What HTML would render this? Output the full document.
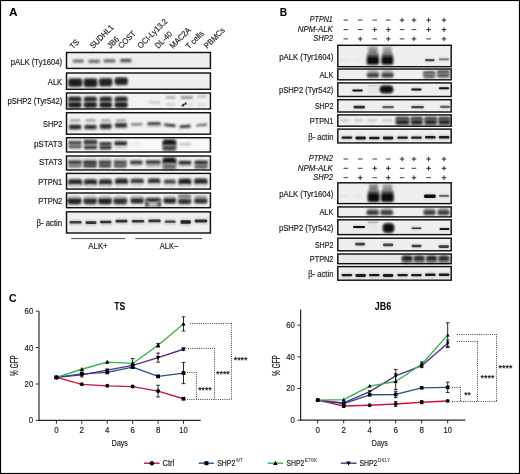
<!DOCTYPE html><html><head><meta charset="utf-8"><style>html,body{margin:0;padding:0;background:#fff;}svg{display:block;will-change:transform;}</style></head><body>
<svg width="520" height="474" viewBox="0 0 520 474" font-family='"Liberation Sans", sans-serif'>
<defs><filter id="b0" x="-50%" y="-100%" width="200%" height="300%"><feGaussianBlur stdDeviation="0.45"/></filter><filter id="b1" x="-50%" y="-100%" width="200%" height="300%"><feGaussianBlur stdDeviation="0.8"/></filter><filter id="b2" x="-50%" y="-100%" width="200%" height="300%"><feGaussianBlur stdDeviation="1.1"/></filter><filter id="b3" x="-50%" y="-50%" width="200%" height="200%"><feGaussianBlur stdDeviation="1.6"/></filter><linearGradient id="smear" x1="0" y1="0" x2="0" y2="1"><stop offset="0" stop-color="#d8d8d8"/><stop offset="0.25" stop-color="#9a9a9a"/><stop offset="0.45" stop-color="#555"/><stop offset="0.55" stop-color="#111"/><stop offset="1" stop-color="#050505"/></linearGradient></defs>
<rect x="0" y="0" width="520" height="474" fill="#fff"/>
<text x="9.00" y="15.60" font-size="11.5" font-weight="bold" fill="#000" text-anchor="start" textLength="8.60" lengthAdjust="spacingAndGlyphs">A</text>
<text x="279.80" y="15.70" font-size="11.5" font-weight="bold" fill="#000" text-anchor="start" textLength="7.40" lengthAdjust="spacingAndGlyphs">B</text>
<text x="9.00" y="302.30" font-size="11.5" font-weight="bold" fill="#000" text-anchor="start" textLength="7.60" lengthAdjust="spacingAndGlyphs">C</text>
<g transform="translate(73.00,49.60) rotate(-45)">
<text x="0.00" y="0.00" font-size="8.2" fill="#1e1e1e" stroke="#1e1e1e" stroke-width="0.18" text-anchor="start" textLength="9.60" lengthAdjust="spacingAndGlyphs">TS</text>
</g>
<g transform="translate(93.20,49.00) rotate(-45)">
<text x="0.00" y="0.00" font-size="8.2" fill="#1e1e1e" stroke="#1e1e1e" stroke-width="0.18" text-anchor="start" textLength="29.80" lengthAdjust="spacingAndGlyphs">SUDHL1</text>
</g>
<g transform="translate(110.40,49.00) rotate(-45)">
<text x="0.00" y="0.00" font-size="8.2" fill="#1e1e1e" stroke="#1e1e1e" stroke-width="0.18" text-anchor="start" textLength="13.00" lengthAdjust="spacingAndGlyphs">JB6</text>
</g>
<g transform="translate(121.40,49.00) rotate(-45)">
<text x="0.00" y="0.00" font-size="8.2" fill="#1e1e1e" stroke="#1e1e1e" stroke-width="0.18" text-anchor="start" textLength="21.00" lengthAdjust="spacingAndGlyphs">COST</text>
</g>
<g transform="translate(140.80,49.00) rotate(-45)">
<text x="0.00" y="0.00" font-size="8.2" fill="#1e1e1e" stroke="#1e1e1e" stroke-width="0.18" text-anchor="start" textLength="38.30" lengthAdjust="spacingAndGlyphs">OCI-Ly13.2</text>
</g>
<g transform="translate(158.20,49.00) rotate(-45)">
<text x="0.00" y="0.00" font-size="8.2" fill="#1e1e1e" stroke="#1e1e1e" stroke-width="0.18" text-anchor="start" textLength="20.50" lengthAdjust="spacingAndGlyphs">DL-40</text>
</g>
<g transform="translate(173.00,49.00) rotate(-45)">
<text x="0.00" y="0.00" font-size="8.2" fill="#1e1e1e" stroke="#1e1e1e" stroke-width="0.18" text-anchor="start" textLength="26.00" lengthAdjust="spacingAndGlyphs">MAC2A</text>
</g>
<g transform="translate(189.00,49.40) rotate(-45)">
<text x="0.00" y="0.00" font-size="8.2" fill="#1e1e1e" stroke="#1e1e1e" stroke-width="0.18" text-anchor="start" textLength="21.70" lengthAdjust="spacingAndGlyphs">T cells</text>
</g>
<g transform="translate(207.30,49.00) rotate(-45)">
<text x="0.00" y="0.00" font-size="8.2" fill="#1e1e1e" stroke="#1e1e1e" stroke-width="0.18" text-anchor="start" textLength="25.60" lengthAdjust="spacingAndGlyphs">PBMCs</text>
</g>
<rect x="66.50" y="52.50" width="143.90" height="15.90" fill="#efefef"/>
<rect x="66.50" y="73.00" width="143.90" height="16.30" fill="#efefef"/>
<rect x="66.50" y="93.00" width="143.90" height="16.00" fill="#f2f2f2"/>
<rect x="66.50" y="112.70" width="143.90" height="21.50" fill="#f2f2f2"/>
<rect x="66.50" y="137.70" width="143.90" height="14.30" fill="#f7f7f7"/>
<rect x="66.50" y="156.00" width="143.90" height="14.00" fill="#f1f1f1"/>
<rect x="66.50" y="173.40" width="143.90" height="15.70" fill="#f0f0f0"/>
<rect x="66.50" y="193.00" width="143.90" height="14.70" fill="#f0f0f0"/>
<rect x="66.50" y="211.80" width="143.90" height="21.20" fill="#efefef"/>
<rect x="72.50" y="59.50" width="11.70" height="4.00" rx="1.40" fill="#c8c8c8" filter="url(#b1)"/>
<rect x="88.10" y="59.50" width="12.20" height="4.00" rx="1.40" fill="#c8c8c8" filter="url(#b1)"/>
<rect x="103.30" y="59.50" width="12.40" height="4.00" rx="1.40" fill="#c8c8c8" filter="url(#b1)"/>
<rect x="119.80" y="59.50" width="12.00" height="4.00" rx="1.40" fill="#c8c8c8" filter="url(#b1)"/>
<rect x="73.00" y="59.70" width="10.70" height="2.60" rx="1.30" fill="#696969" filter="url(#b1)"/>
<rect x="88.60" y="59.90" width="11.20" height="2.60" rx="1.30" fill="#646464" filter="url(#b1)"/>
<rect x="103.80" y="59.50" width="11.40" height="2.60" rx="1.30" fill="#5f5f5f" filter="url(#b1)"/>
<rect x="120.30" y="59.00" width="11.00" height="2.80" rx="1.40" fill="#464646" filter="url(#b1)"/>
<rect x="67.90" y="77.90" width="14.70" height="9.40" rx="3.00" fill="#8e8e8e" filter="url(#b2)"/>
<rect x="68.70" y="78.90" width="13.10" height="7.40" rx="2.00" fill="#1e1e1e" filter="url(#b1)"/>
<rect x="83.40" y="78.00" width="14.20" height="9.40" rx="3.00" fill="#8e8e8e" filter="url(#b2)"/>
<rect x="84.20" y="79.00" width="12.60" height="7.40" rx="2.00" fill="#1e1e1e" filter="url(#b1)"/>
<rect x="98.70" y="77.80" width="13.90" height="9.00" rx="3.00" fill="#909090" filter="url(#b2)"/>
<rect x="99.50" y="78.80" width="12.30" height="7.00" rx="2.00" fill="#222222" filter="url(#b1)"/>
<rect x="114.40" y="77.00" width="13.70" height="8.40" rx="3.00" fill="#909090" filter="url(#b2)"/>
<rect x="115.20" y="78.00" width="12.10" height="6.40" rx="2.00" fill="#222222" filter="url(#b1)"/>
<rect x="67.70" y="96.20" width="14.10" height="6.20" rx="2.80" fill="#919191" filter="url(#b2)"/>
<rect x="68.50" y="97.20" width="12.50" height="4.20" rx="1.80" fill="#232323" filter="url(#b1)"/>
<rect x="67.70" y="101.60" width="14.10" height="6.60" rx="2.80" fill="#8e8e8e" filter="url(#b2)"/>
<rect x="68.50" y="102.60" width="12.50" height="4.60" rx="1.80" fill="#1e1e1e" filter="url(#b1)"/>
<rect x="83.50" y="96.20" width="13.70" height="6.20" rx="2.80" fill="#919191" filter="url(#b2)"/>
<rect x="84.30" y="97.20" width="12.10" height="4.20" rx="1.80" fill="#232323" filter="url(#b1)"/>
<rect x="83.50" y="101.60" width="13.70" height="6.60" rx="2.80" fill="#8e8e8e" filter="url(#b2)"/>
<rect x="84.30" y="102.60" width="12.10" height="4.60" rx="1.80" fill="#1e1e1e" filter="url(#b1)"/>
<rect x="99.20" y="96.20" width="13.10" height="6.20" rx="2.80" fill="#919191" filter="url(#b2)"/>
<rect x="100.00" y="97.20" width="11.50" height="4.20" rx="1.80" fill="#232323" filter="url(#b1)"/>
<rect x="99.20" y="101.60" width="13.10" height="6.60" rx="2.80" fill="#8e8e8e" filter="url(#b2)"/>
<rect x="100.00" y="102.60" width="11.50" height="4.60" rx="1.80" fill="#1e1e1e" filter="url(#b1)"/>
<rect x="114.30" y="96.20" width="13.60" height="6.20" rx="2.80" fill="#919191" filter="url(#b2)"/>
<rect x="115.10" y="97.20" width="12.00" height="4.20" rx="1.80" fill="#232323" filter="url(#b1)"/>
<rect x="114.30" y="101.60" width="13.60" height="6.60" rx="2.80" fill="#8e8e8e" filter="url(#b2)"/>
<rect x="115.10" y="102.60" width="12.00" height="4.60" rx="1.80" fill="#1e1e1e" filter="url(#b1)"/>
<rect x="148.30" y="101.10" width="12.40" height="2.60" rx="1.30" fill="#cdcdcd" filter="url(#b1)"/>
<rect x="165.70" y="96.00" width="9.90" height="2.80" rx="1.40" fill="#afafaf" filter="url(#b1)"/>
<rect x="165.70" y="103.30" width="9.90" height="2.40" rx="1.20" fill="#cdcdcd" filter="url(#b1)"/>
<rect x="180.50" y="95.90" width="12.50" height="3.00" rx="1.40" fill="#969696" filter="url(#b1)"/>
<rect x="186.00" y="103.40" width="7.00" height="2.20" rx="1.10" fill="#cdcdcd" filter="url(#b1)"/>
<path d="M181.0 106.2L183.2 103.6L185.0 104.4L183.6 106.4Z" fill="#2a2a2a" filter="url(#b0)"/>
<path d="M184.2 102.8L186.4 102.2L186.6 104.6L185.0 104.8Z" fill="#2a2a2a" filter="url(#b0)"/>
<rect x="197.00" y="94.90" width="10.00" height="2.80" rx="1.40" fill="#c3c3c3" filter="url(#b1)"/>
<rect x="197.00" y="103.30" width="10.00" height="2.40" rx="1.20" fill="#d7d7d7" filter="url(#b1)"/>
<rect x="69.70" y="119.60" width="10.80" height="2.00" rx="1.00" fill="#8c8c8c" filter="url(#b1)"/>
<rect x="68.70" y="124.50" width="12.80" height="5.80" rx="1.40" fill="#b9b9b9" filter="url(#b1)"/>
<rect x="69.20" y="125.10" width="11.80" height="3.80" rx="1.40" fill="#262626" filter="url(#b1)"/>
<rect x="85.10" y="119.60" width="10.80" height="2.00" rx="1.00" fill="#8c8c8c" filter="url(#b1)"/>
<rect x="84.10" y="124.70" width="12.80" height="5.40" rx="1.40" fill="#b9b9b9" filter="url(#b1)"/>
<rect x="84.60" y="125.30" width="11.80" height="3.40" rx="1.40" fill="#262626" filter="url(#b1)"/>
<rect x="100.70" y="119.60" width="10.20" height="2.00" rx="1.00" fill="#8c8c8c" filter="url(#b1)"/>
<rect x="99.70" y="123.60" width="12.20" height="6.20" rx="1.40" fill="#b9b9b9" filter="url(#b1)"/>
<rect x="100.20" y="124.20" width="11.20" height="4.20" rx="1.40" fill="#262626" filter="url(#b1)"/>
<rect x="115.70" y="119.60" width="10.60" height="2.00" rx="1.00" fill="#8c8c8c" filter="url(#b1)"/>
<rect x="114.70" y="122.80" width="12.60" height="5.80" rx="1.40" fill="#b9b9b9" filter="url(#b1)"/>
<rect x="115.20" y="123.40" width="11.60" height="3.80" rx="1.40" fill="#262626" filter="url(#b1)"/>
<rect x="131.00" y="123.20" width="11.50" height="2.40" rx="1.20" fill="#6e6e6e" filter="url(#b1)"/>
<rect x="147.50" y="122.20" width="13.20" height="3.40" rx="1.20" fill="#2d2d2d" filter="url(#b1)"/>
<rect x="148.00" y="125.20" width="12.20" height="1.60" rx="0.80" fill="#c8c8c8" filter="url(#b1)"/>
<path d="M164.3 123.6L175.3 124.2L175.3 127.2L164.3 126.0Z" fill="#353535" filter="url(#b1)"/>
<path d="M179.7 125.4L190.5 124.6L190.5 127.6L179.7 128.2Z" fill="#353535" filter="url(#b1)"/>
<path d="M196.2 124.6L207.0 123.4L207.0 125.8L196.2 126.6Z" fill="#606060" filter="url(#b1)"/>
<rect x="68.50" y="139.80" width="13.00" height="2.40" rx="1.20" fill="#c8c8c8" filter="url(#b1)"/>
<rect x="68.50" y="143.90" width="13.00" height="2.00" rx="1.00" fill="#c3c3c3" filter="url(#b1)"/>
<rect x="68.50" y="141.20" width="13.00" height="3.20" rx="1.00" fill="#373737" filter="url(#b1)"/>
<rect x="68.50" y="145.20" width="13.00" height="3.20" rx="1.00" fill="#555555" filter="url(#b1)"/>
<rect x="84.00" y="139.20" width="13.00" height="3.60" rx="1.40" fill="#6e6e6e" filter="url(#b1)"/>
<rect x="84.00" y="141.00" width="13.00" height="3.60" rx="1.00" fill="#2d2d2d" filter="url(#b1)"/>
<rect x="84.00" y="144.40" width="13.00" height="1.60" rx="0.80" fill="#969696" filter="url(#b1)"/>
<rect x="84.00" y="145.80" width="13.00" height="3.40" rx="1.00" fill="#323232" filter="url(#b1)"/>
<rect x="99.50" y="144.90" width="12.00" height="1.80" rx="0.90" fill="#aaaaaa" filter="url(#b1)"/>
<rect x="99.50" y="142.10" width="12.00" height="3.40" rx="1.00" fill="#323232" filter="url(#b1)"/>
<rect x="99.50" y="146.10" width="12.00" height="3.40" rx="1.00" fill="#323232" filter="url(#b1)"/>
<rect x="114.50" y="140.60" width="12.50" height="2.00" rx="1.00" fill="#c8c8c8" filter="url(#b1)"/>
<rect x="114.50" y="141.60" width="12.50" height="4.00" rx="1.00" fill="#232323" filter="url(#b1)"/>
<rect x="114.50" y="146.40" width="12.50" height="2.40" rx="1.20" fill="#c3c3c3" filter="url(#b1)"/>
<rect x="131.00" y="143.00" width="9.00" height="2.00" rx="1.00" fill="#e4e4e4" filter="url(#b1)"/>
<rect x="162.20" y="139.00" width="14.40" height="8.40" rx="3.50" fill="#8c8c8c" filter="url(#b2)"/>
<rect x="163.00" y="140.00" width="12.80" height="6.40" rx="2.50" fill="#191919" filter="url(#b1)"/>
<rect x="162.20" y="144.70" width="14.40" height="6.60" rx="3.00" fill="#a0a0a0" filter="url(#b2)"/>
<rect x="163.00" y="145.70" width="12.80" height="4.60" rx="2.00" fill="#464646" filter="url(#b1)"/>
<rect x="179.70" y="143.10" width="11.60" height="2.20" rx="1.10" fill="#b9b9b9" filter="url(#b1)"/>
<rect x="68.50" y="161.50" width="13.00" height="5.00" rx="1.40" fill="#969696" filter="url(#b1)"/>
<rect x="68.50" y="160.10" width="13.00" height="3.60" rx="1.00" fill="#323232" filter="url(#b1)"/>
<rect x="68.50" y="164.40" width="13.00" height="3.20" rx="1.00" fill="#787878" filter="url(#b1)"/>
<rect x="68.50" y="158.50" width="13.00" height="1.80" rx="0.90" fill="#cdcdcd" filter="url(#b1)"/>
<rect x="83.50" y="161.50" width="13.00" height="5.00" rx="1.40" fill="#787878" filter="url(#b1)"/>
<rect x="83.50" y="160.10" width="13.00" height="3.60" rx="1.00" fill="#2d2d2d" filter="url(#b1)"/>
<rect x="83.50" y="164.40" width="13.00" height="3.20" rx="1.00" fill="#414141" filter="url(#b1)"/>
<rect x="83.50" y="158.50" width="13.00" height="1.80" rx="0.90" fill="#cdcdcd" filter="url(#b1)"/>
<rect x="99.00" y="161.50" width="12.00" height="5.00" rx="1.40" fill="#8c8c8c" filter="url(#b1)"/>
<rect x="99.00" y="160.10" width="12.00" height="3.60" rx="1.00" fill="#3c3c3c" filter="url(#b1)"/>
<rect x="99.00" y="164.40" width="12.00" height="3.20" rx="1.00" fill="#414141" filter="url(#b1)"/>
<rect x="99.00" y="158.50" width="12.00" height="1.80" rx="0.90" fill="#cdcdcd" filter="url(#b1)"/>
<rect x="114.00" y="161.50" width="12.50" height="5.00" rx="1.40" fill="#969696" filter="url(#b1)"/>
<rect x="114.00" y="160.10" width="12.50" height="3.60" rx="1.00" fill="#4b4b4b" filter="url(#b1)"/>
<rect x="114.00" y="164.40" width="12.50" height="3.20" rx="1.00" fill="#555555" filter="url(#b1)"/>
<rect x="114.00" y="158.50" width="12.50" height="1.80" rx="0.90" fill="#cdcdcd" filter="url(#b1)"/>
<rect x="130.10" y="163.90" width="12.40" height="2.20" rx="1.10" fill="#c8c8c8" filter="url(#b1)"/>
<rect x="130.10" y="160.50" width="12.40" height="3.80" rx="1.00" fill="#373737" filter="url(#b1)"/>
<rect x="145.80" y="164.30" width="14.90" height="2.60" rx="1.30" fill="#aaaaaa" filter="url(#b1)"/>
<rect x="145.80" y="160.20" width="14.90" height="3.80" rx="1.00" fill="#373737" filter="url(#b1)"/>
<rect x="162.20" y="157.10" width="14.40" height="8.60" rx="3.50" fill="#8c8c8c" filter="url(#b2)"/>
<rect x="163.00" y="158.10" width="12.80" height="6.60" rx="2.50" fill="#191919" filter="url(#b1)"/>
<rect x="162.20" y="163.10" width="14.40" height="7.00" rx="3.00" fill="#b2b2b2" filter="url(#b2)"/>
<rect x="163.00" y="164.10" width="12.80" height="5.00" rx="2.00" fill="#6e6e6e" filter="url(#b1)"/>
<rect x="178.60" y="164.50" width="12.70" height="2.20" rx="1.10" fill="#bebebe" filter="url(#b1)"/>
<rect x="178.60" y="160.70" width="12.70" height="3.80" rx="1.00" fill="#282828" filter="url(#b1)"/>
<rect x="194.60" y="163.20" width="13.20" height="3.00" rx="1.40" fill="#969696" filter="url(#b1)"/>
<rect x="194.60" y="160.60" width="13.20" height="3.60" rx="1.00" fill="#2d2d2d" filter="url(#b1)"/>
<rect x="194.60" y="165.40" width="13.20" height="3.20" rx="1.00" fill="#505050" filter="url(#b1)"/>
<rect x="67.70" y="178.70" width="14.90" height="7.00" rx="3.00" fill="#929292" filter="url(#b2)"/>
<rect x="68.50" y="179.70" width="13.30" height="5.00" rx="2.00" fill="#262626" filter="url(#b1)"/>
<rect x="69.50" y="184.60" width="11.30" height="2.40" rx="1.20" fill="#d7d7d7" filter="url(#b1)"/>
<rect x="83.70" y="178.70" width="13.60" height="7.00" rx="3.00" fill="#929292" filter="url(#b2)"/>
<rect x="84.50" y="179.70" width="12.00" height="5.00" rx="2.00" fill="#262626" filter="url(#b1)"/>
<rect x="85.50" y="184.60" width="10.00" height="2.40" rx="1.20" fill="#d7d7d7" filter="url(#b1)"/>
<rect x="98.70" y="178.70" width="13.60" height="7.00" rx="3.00" fill="#929292" filter="url(#b2)"/>
<rect x="99.50" y="179.70" width="12.00" height="5.00" rx="2.00" fill="#262626" filter="url(#b1)"/>
<rect x="100.50" y="184.60" width="10.00" height="2.40" rx="1.20" fill="#d7d7d7" filter="url(#b1)"/>
<rect x="114.70" y="178.10" width="13.60" height="6.80" rx="3.00" fill="#939393" filter="url(#b2)"/>
<rect x="115.50" y="179.10" width="12.00" height="4.80" rx="2.00" fill="#282828" filter="url(#b1)"/>
<rect x="116.50" y="183.90" width="10.00" height="2.40" rx="1.20" fill="#d7d7d7" filter="url(#b1)"/>
<rect x="130.20" y="178.20" width="14.00" height="6.00" rx="3.00" fill="#9a9a9a" filter="url(#b2)"/>
<rect x="131.00" y="179.20" width="12.40" height="4.00" rx="2.00" fill="#373737" filter="url(#b1)"/>
<rect x="132.00" y="183.60" width="10.40" height="2.40" rx="1.20" fill="#d7d7d7" filter="url(#b1)"/>
<rect x="147.50" y="178.10" width="13.20" height="6.20" rx="3.00" fill="#959595" filter="url(#b2)"/>
<rect x="148.30" y="179.10" width="11.60" height="4.20" rx="2.00" fill="#2d2d2d" filter="url(#b1)"/>
<rect x="149.30" y="183.60" width="9.60" height="2.40" rx="1.20" fill="#d7d7d7" filter="url(#b1)"/>
<rect x="163.50" y="179.10" width="12.60" height="5.60" rx="3.00" fill="#a0a0a0" filter="url(#b2)"/>
<rect x="164.30" y="180.10" width="11.00" height="3.60" rx="2.00" fill="#464646" filter="url(#b1)"/>
<rect x="165.30" y="184.30" width="9.00" height="2.40" rx="1.20" fill="#d7d7d7" filter="url(#b1)"/>
<rect x="178.10" y="178.20" width="13.50" height="7.40" rx="3.00" fill="#8e8e8e" filter="url(#b2)"/>
<rect x="178.90" y="179.20" width="11.90" height="5.40" rx="2.00" fill="#1e1e1e" filter="url(#b1)"/>
<rect x="179.90" y="184.30" width="9.90" height="2.40" rx="1.20" fill="#d7d7d7" filter="url(#b1)"/>
<rect x="193.80" y="178.10" width="14.00" height="7.00" rx="3.00" fill="#939393" filter="url(#b2)"/>
<rect x="194.60" y="179.10" width="12.40" height="5.00" rx="2.00" fill="#282828" filter="url(#b1)"/>
<rect x="195.60" y="184.00" width="10.40" height="2.40" rx="1.20" fill="#d7d7d7" filter="url(#b1)"/>
<rect x="67.00" y="197.20" width="14.80" height="7.60" rx="3.20" fill="#919191" filter="url(#b2)"/>
<rect x="67.80" y="198.20" width="13.20" height="5.60" rx="2.20" fill="#232323" filter="url(#b1)"/>
<rect x="68.80" y="195.90" width="11.20" height="2.20" rx="1.10" fill="#bebebe" filter="url(#b1)"/>
<rect x="83.20" y="197.20" width="14.10" height="7.60" rx="3.20" fill="#959595" filter="url(#b2)"/>
<rect x="84.00" y="198.20" width="12.50" height="5.60" rx="2.20" fill="#2d2d2d" filter="url(#b1)"/>
<rect x="85.00" y="195.90" width="10.50" height="2.20" rx="1.10" fill="#bebebe" filter="url(#b1)"/>
<rect x="97.80" y="197.20" width="14.50" height="7.60" rx="3.20" fill="#919191" filter="url(#b2)"/>
<rect x="98.60" y="198.20" width="12.90" height="5.60" rx="2.20" fill="#232323" filter="url(#b1)"/>
<rect x="99.60" y="195.90" width="10.90" height="2.20" rx="1.10" fill="#bebebe" filter="url(#b1)"/>
<rect x="113.20" y="197.20" width="14.30" height="7.60" rx="3.20" fill="#959595" filter="url(#b2)"/>
<rect x="114.00" y="198.20" width="12.70" height="5.60" rx="2.20" fill="#2d2d2d" filter="url(#b1)"/>
<rect x="115.00" y="195.90" width="10.70" height="2.20" rx="1.10" fill="#bebebe" filter="url(#b1)"/>
<rect x="130.20" y="197.10" width="14.00" height="7.00" rx="3.20" fill="#959595" filter="url(#b2)"/>
<rect x="131.00" y="198.10" width="12.40" height="5.00" rx="2.20" fill="#2d2d2d" filter="url(#b1)"/>
<rect x="132.00" y="195.90" width="10.40" height="2.20" rx="1.10" fill="#bebebe" filter="url(#b1)"/>
<rect x="163.20" y="197.10" width="13.20" height="7.00" rx="3.20" fill="#939393" filter="url(#b2)"/>
<rect x="164.00" y="198.10" width="11.60" height="5.00" rx="2.20" fill="#282828" filter="url(#b1)"/>
<rect x="165.00" y="195.90" width="9.60" height="2.20" rx="1.10" fill="#bebebe" filter="url(#b1)"/>
<rect x="144.80" y="197.40" width="16.50" height="6.20" rx="2.80" fill="#939393" filter="url(#b2)"/>
<rect x="145.60" y="198.40" width="14.90" height="4.20" rx="1.80" fill="#282828" filter="url(#b1)"/>
<rect x="146.00" y="202.00" width="14.20" height="4.60" rx="1.50" fill="#8c8c8c" filter="url(#b1)"/>
<rect x="145.00" y="200.50" width="4.40" height="7.00" rx="2.20" fill="#a0a0a0" filter="url(#b2)"/>
<rect x="145.80" y="201.50" width="2.80" height="5.00" rx="1.20" fill="#464646" filter="url(#b1)"/>
<rect x="156.80" y="200.50" width="4.40" height="7.00" rx="2.20" fill="#a3a3a3" filter="url(#b2)"/>
<rect x="157.60" y="201.50" width="2.80" height="5.00" rx="1.20" fill="#4b4b4b" filter="url(#b1)"/>
<rect x="149.00" y="202.90" width="8.00" height="2.60" rx="1.20" fill="#cdcdcd" filter="url(#b1)"/>
<rect x="177.70" y="194.20" width="13.90" height="4.40" rx="2.20" fill="#b2b2b2" filter="url(#b2)"/>
<rect x="178.50" y="195.20" width="12.30" height="2.40" rx="1.20" fill="#6e6e6e" filter="url(#b1)"/>
<rect x="177.70" y="198.20" width="13.90" height="6.40" rx="2.80" fill="#959595" filter="url(#b2)"/>
<rect x="178.50" y="199.20" width="12.30" height="4.40" rx="1.80" fill="#2d2d2d" filter="url(#b1)"/>
<rect x="194.60" y="195.70" width="12.40" height="2.20" rx="1.10" fill="#8c8c8c" filter="url(#b1)"/>
<rect x="193.80" y="197.70" width="14.00" height="6.40" rx="2.80" fill="#959595" filter="url(#b2)"/>
<rect x="194.60" y="198.70" width="12.40" height="4.40" rx="1.80" fill="#2d2d2d" filter="url(#b1)"/>
<rect x="69.00" y="219.90" width="13.00" height="5.20" rx="1.40" fill="#c3c3c3" filter="url(#b1)"/>
<rect x="69.50" y="220.90" width="12.00" height="2.60" rx="1.30" fill="#3c3c3c" filter="url(#b0)"/>
<rect x="85.00" y="220.20" width="12.00" height="5.40" rx="1.40" fill="#c3c3c3" filter="url(#b1)"/>
<rect x="85.50" y="221.20" width="11.00" height="2.80" rx="1.40" fill="#323232" filter="url(#b0)"/>
<rect x="99.50" y="219.70" width="12.50" height="5.20" rx="1.40" fill="#c3c3c3" filter="url(#b1)"/>
<rect x="100.00" y="220.70" width="11.50" height="2.60" rx="1.30" fill="#323232" filter="url(#b0)"/>
<rect x="115.00" y="218.70" width="13.00" height="5.40" rx="1.40" fill="#c3c3c3" filter="url(#b1)"/>
<rect x="115.50" y="219.70" width="12.00" height="2.80" rx="1.40" fill="#323232" filter="url(#b0)"/>
<rect x="131.30" y="218.90" width="13.40" height="5.20" rx="1.40" fill="#c3c3c3" filter="url(#b1)"/>
<rect x="131.80" y="219.90" width="12.40" height="2.60" rx="1.30" fill="#373737" filter="url(#b0)"/>
<rect x="147.80" y="218.60" width="13.40" height="5.20" rx="1.40" fill="#c3c3c3" filter="url(#b1)"/>
<rect x="148.30" y="219.60" width="12.40" height="2.60" rx="1.30" fill="#373737" filter="url(#b0)"/>
<rect x="164.30" y="219.60" width="11.80" height="4.80" rx="1.40" fill="#c3c3c3" filter="url(#b1)"/>
<rect x="164.80" y="220.60" width="10.80" height="2.20" rx="1.10" fill="#464646" filter="url(#b0)"/>
<rect x="180.00" y="219.20" width="11.30" height="6.20" rx="1.40" fill="#c3c3c3" filter="url(#b1)"/>
<rect x="180.50" y="220.20" width="10.30" height="3.60" rx="1.40" fill="#232323" filter="url(#b0)"/>
<rect x="194.10" y="218.40" width="13.70" height="5.60" rx="1.40" fill="#c3c3c3" filter="url(#b1)"/>
<rect x="194.60" y="219.40" width="12.70" height="3.00" rx="1.40" fill="#2d2d2d" filter="url(#b0)"/>
<rect x="66.50" y="52.50" width="143.90" height="15.90" fill="none" stroke="#111" stroke-width="1.45"/>
<text x="10.80" y="64.90" font-size="8.2" fill="#1e1e1e" stroke="#1e1e1e" stroke-width="0.18" text-anchor="start" textLength="51.40" lengthAdjust="spacingAndGlyphs">pALK (Ty1604)</text>
<rect x="66.50" y="73.00" width="143.90" height="16.30" fill="none" stroke="#111" stroke-width="1.45"/>
<text x="47.80" y="85.00" font-size="8.2" fill="#1e1e1e" stroke="#1e1e1e" stroke-width="0.18" text-anchor="start" textLength="14.40" lengthAdjust="spacingAndGlyphs">ALK</text>
<rect x="66.50" y="93.00" width="143.90" height="16.00" fill="none" stroke="#111" stroke-width="1.45"/>
<text x="7.40" y="104.30" font-size="8.2" fill="#1e1e1e" stroke="#1e1e1e" stroke-width="0.18" text-anchor="start" textLength="54.80" lengthAdjust="spacingAndGlyphs">pSHP2 (Tyr542)</text>
<rect x="66.50" y="112.70" width="143.90" height="21.50" fill="none" stroke="#111" stroke-width="1.45"/>
<text x="43.10" y="126.70" font-size="8.2" fill="#1e1e1e" stroke="#1e1e1e" stroke-width="0.18" text-anchor="start" textLength="19.10" lengthAdjust="spacingAndGlyphs">SHP2</text>
<rect x="66.50" y="137.70" width="143.90" height="14.30" fill="none" stroke="#111" stroke-width="1.45"/>
<text x="33.90" y="146.60" font-size="8.2" fill="#1e1e1e" stroke="#1e1e1e" stroke-width="0.18" text-anchor="start" textLength="28.30" lengthAdjust="spacingAndGlyphs">pSTAT3</text>
<rect x="66.50" y="156.00" width="143.90" height="14.00" fill="none" stroke="#111" stroke-width="1.45"/>
<text x="39.00" y="164.70" font-size="8.2" fill="#1e1e1e" stroke="#1e1e1e" stroke-width="0.18" text-anchor="start" textLength="23.20" lengthAdjust="spacingAndGlyphs">STAT3</text>
<rect x="66.50" y="173.40" width="143.90" height="15.70" fill="none" stroke="#111" stroke-width="1.45"/>
<text x="38.20" y="184.90" font-size="8.2" fill="#1e1e1e" stroke="#1e1e1e" stroke-width="0.18" text-anchor="start" textLength="24.00" lengthAdjust="spacingAndGlyphs">PTPN1</text>
<rect x="66.50" y="193.00" width="143.90" height="14.70" fill="none" stroke="#111" stroke-width="1.45"/>
<text x="38.20" y="203.50" font-size="8.2" fill="#1e1e1e" stroke="#1e1e1e" stroke-width="0.18" text-anchor="start" textLength="24.00" lengthAdjust="spacingAndGlyphs">PTPN2</text>
<rect x="66.50" y="211.80" width="143.90" height="21.20" fill="none" stroke="#111" stroke-width="1.45"/>
<text x="36.40" y="225.80" font-size="8.2" fill="#1e1e1e" stroke="#1e1e1e" stroke-width="0.18" text-anchor="start" textLength="25.80" lengthAdjust="spacingAndGlyphs">β- actin</text>
<line x1="71.3" y1="238.6" x2="125.2" y2="238.6" stroke="#333" stroke-width="0.9"/>
<line x1="135.2" y1="238.6" x2="202.3" y2="238.6" stroke="#333" stroke-width="0.9"/>
<text x="88.30" y="249.20" font-size="8.2" fill="#1e1e1e" stroke="#1e1e1e" stroke-width="0.18" text-anchor="start" textLength="19.40" lengthAdjust="spacingAndGlyphs">ALK+</text>
<text x="159.80" y="249.20" font-size="8.2" fill="#1e1e1e" stroke="#1e1e1e" stroke-width="0.18" text-anchor="start" textLength="18.40" lengthAdjust="spacingAndGlyphs">ALK–</text>
<text x="309.80" y="22.40" font-size="8.2" font-style="italic" fill="#1e1e1e" stroke="#1e1e1e" stroke-width="0.18" text-anchor="start" textLength="23.00" lengthAdjust="spacingAndGlyphs">PTPN1</text>
<path d="M343.50 20.10h4.6" stroke="#333" stroke-width="0.95" fill="none"/>
<path d="M357.90 20.10h4.6" stroke="#333" stroke-width="0.95" fill="none"/>
<path d="M372.40 20.10h4.6" stroke="#333" stroke-width="0.95" fill="none"/>
<path d="M386.00 20.10h4.6" stroke="#333" stroke-width="0.95" fill="none"/>
<path d="M399.80 20.10h4.6M402.10 17.80v4.6" stroke="#222" stroke-width="0.95" fill="none"/>
<path d="M411.70 20.10h4.6M414.00 17.80v4.6" stroke="#222" stroke-width="0.95" fill="none"/>
<path d="M426.30 20.10h4.6M428.60 17.80v4.6" stroke="#222" stroke-width="0.95" fill="none"/>
<path d="M441.70 20.10h4.6M444.00 17.80v4.6" stroke="#222" stroke-width="0.95" fill="none"/>
<text x="297.80" y="31.90" font-size="8.2" font-style="italic" fill="#1e1e1e" stroke="#1e1e1e" stroke-width="0.18" text-anchor="start" textLength="35.00" lengthAdjust="spacingAndGlyphs">NPM-ALK</text>
<path d="M343.50 29.60h4.6" stroke="#333" stroke-width="0.95" fill="none"/>
<path d="M357.90 29.60h4.6" stroke="#333" stroke-width="0.95" fill="none"/>
<path d="M372.40 29.60h4.6M374.70 27.30v4.6" stroke="#222" stroke-width="0.95" fill="none"/>
<path d="M386.00 29.60h4.6M388.30 27.30v4.6" stroke="#222" stroke-width="0.95" fill="none"/>
<path d="M399.80 29.60h4.6" stroke="#333" stroke-width="0.95" fill="none"/>
<path d="M411.70 29.60h4.6" stroke="#333" stroke-width="0.95" fill="none"/>
<path d="M426.30 29.60h4.6M428.60 27.30v4.6" stroke="#222" stroke-width="0.95" fill="none"/>
<path d="M441.70 29.60h4.6M444.00 27.30v4.6" stroke="#222" stroke-width="0.95" fill="none"/>
<text x="313.30" y="41.20" font-size="8.2" font-style="italic" fill="#1e1e1e" stroke="#1e1e1e" stroke-width="0.18" text-anchor="start" textLength="19.50" lengthAdjust="spacingAndGlyphs">SHP2</text>
<path d="M343.50 38.90h4.6" stroke="#333" stroke-width="0.95" fill="none"/>
<path d="M357.90 38.90h4.6M360.20 36.60v4.6" stroke="#222" stroke-width="0.95" fill="none"/>
<path d="M372.40 38.90h4.6" stroke="#333" stroke-width="0.95" fill="none"/>
<path d="M386.00 38.90h4.6M388.30 36.60v4.6" stroke="#222" stroke-width="0.95" fill="none"/>
<path d="M399.80 38.90h4.6" stroke="#333" stroke-width="0.95" fill="none"/>
<path d="M411.70 38.90h4.6M414.00 36.60v4.6" stroke="#222" stroke-width="0.95" fill="none"/>
<path d="M426.30 38.90h4.6" stroke="#333" stroke-width="0.95" fill="none"/>
<path d="M441.70 38.90h4.6M444.00 36.60v4.6" stroke="#222" stroke-width="0.95" fill="none"/>
<text x="308.80" y="161.30" font-size="8.2" font-style="italic" fill="#1e1e1e" stroke="#1e1e1e" stroke-width="0.18" text-anchor="start" textLength="24.00" lengthAdjust="spacingAndGlyphs">PTPN2</text>
<path d="M343.50 159.00h4.6" stroke="#333" stroke-width="0.95" fill="none"/>
<path d="M357.90 159.00h4.6" stroke="#333" stroke-width="0.95" fill="none"/>
<path d="M372.40 159.00h4.6" stroke="#333" stroke-width="0.95" fill="none"/>
<path d="M386.00 159.00h4.6" stroke="#333" stroke-width="0.95" fill="none"/>
<path d="M399.80 159.00h4.6M402.10 156.70v4.6" stroke="#222" stroke-width="0.95" fill="none"/>
<path d="M411.70 159.00h4.6M414.00 156.70v4.6" stroke="#222" stroke-width="0.95" fill="none"/>
<path d="M426.30 159.00h4.6M428.60 156.70v4.6" stroke="#222" stroke-width="0.95" fill="none"/>
<path d="M441.70 159.00h4.6M444.00 156.70v4.6" stroke="#222" stroke-width="0.95" fill="none"/>
<text x="297.80" y="170.60" font-size="8.2" font-style="italic" fill="#1e1e1e" stroke="#1e1e1e" stroke-width="0.18" text-anchor="start" textLength="35.00" lengthAdjust="spacingAndGlyphs">NPM-ALK</text>
<path d="M343.50 168.30h4.6" stroke="#333" stroke-width="0.95" fill="none"/>
<path d="M357.90 168.30h4.6" stroke="#333" stroke-width="0.95" fill="none"/>
<path d="M372.40 168.30h4.6M374.70 166.00v4.6" stroke="#222" stroke-width="0.95" fill="none"/>
<path d="M386.00 168.30h4.6M388.30 166.00v4.6" stroke="#222" stroke-width="0.95" fill="none"/>
<path d="M399.80 168.30h4.6" stroke="#333" stroke-width="0.95" fill="none"/>
<path d="M411.70 168.30h4.6" stroke="#333" stroke-width="0.95" fill="none"/>
<path d="M426.30 168.30h4.6M428.60 166.00v4.6" stroke="#222" stroke-width="0.95" fill="none"/>
<path d="M441.70 168.30h4.6M444.00 166.00v4.6" stroke="#222" stroke-width="0.95" fill="none"/>
<text x="313.30" y="180.00" font-size="8.2" font-style="italic" fill="#1e1e1e" stroke="#1e1e1e" stroke-width="0.18" text-anchor="start" textLength="19.50" lengthAdjust="spacingAndGlyphs">SHP2</text>
<path d="M343.50 177.70h4.6" stroke="#333" stroke-width="0.95" fill="none"/>
<path d="M357.90 177.70h4.6M360.20 175.40v4.6" stroke="#222" stroke-width="0.95" fill="none"/>
<path d="M372.40 177.70h4.6" stroke="#333" stroke-width="0.95" fill="none"/>
<path d="M386.00 177.70h4.6M388.30 175.40v4.6" stroke="#222" stroke-width="0.95" fill="none"/>
<path d="M399.80 177.70h4.6" stroke="#333" stroke-width="0.95" fill="none"/>
<path d="M411.70 177.70h4.6M414.00 175.40v4.6" stroke="#222" stroke-width="0.95" fill="none"/>
<path d="M426.30 177.70h4.6" stroke="#333" stroke-width="0.95" fill="none"/>
<path d="M441.70 177.70h4.6M444.00 175.40v4.6" stroke="#222" stroke-width="0.95" fill="none"/>
<rect x="337.80" y="45.30" width="113.40" height="21.40" fill="#efefef"/>
<rect x="337.80" y="69.00" width="113.40" height="10.80" fill="#efefef"/>
<rect x="337.80" y="82.90" width="113.40" height="13.60" fill="#efefef"/>
<rect x="337.80" y="99.70" width="113.40" height="12.30" fill="#efefef"/>
<rect x="337.80" y="114.90" width="113.40" height="11.30" fill="#efefef"/>
<rect x="337.80" y="129.10" width="113.40" height="13.80" fill="#efefef"/>
<rect x="337.80" y="182.80" width="113.40" height="20.80" fill="#efefef"/>
<rect x="337.80" y="206.90" width="113.40" height="10.00" fill="#efefef"/>
<rect x="337.80" y="219.80" width="113.40" height="14.80" fill="#efefef"/>
<rect x="337.80" y="238.20" width="113.40" height="12.60" fill="#efefef"/>
<rect x="337.80" y="254.00" width="113.40" height="9.70" fill="#e9e9e9"/>
<rect x="337.80" y="266.60" width="113.40" height="13.60" fill="#efefef"/>
<linearGradient id="sg36646" x1="0" y1="0" x2="0" y2="1"><stop offset="0" stop-color="#a5a5a5"/><stop offset="0.5" stop-color="#828282"/><stop offset="1" stop-color="#3a3a3a"/></linearGradient>
<rect x="368.20" y="46.30" width="9.30" height="10.30" rx="1" fill="url(#sg36646)" filter="url(#b1)"/>
<rect x="366.70" y="53.50" width="12.30" height="4.20" rx="2.10" fill="#a5a5a5" filter="url(#b2)"/>
<rect x="367.50" y="54.50" width="10.70" height="2.20" rx="1.10" fill="#505050" filter="url(#b1)"/>
<rect x="366.70" y="56.20" width="12.30" height="8.60" rx="2.6" fill="#0a0a0a" filter="url(#b1)"/>
<linearGradient id="sg38146" x1="0" y1="0" x2="0" y2="1"><stop offset="0" stop-color="#b4b4b4"/><stop offset="0.5" stop-color="#919191"/><stop offset="1" stop-color="#3a3a3a"/></linearGradient>
<rect x="382.90" y="46.30" width="8.90" height="10.30" rx="1" fill="url(#sg38146)" filter="url(#b1)"/>
<rect x="381.40" y="53.50" width="11.90" height="4.20" rx="2.10" fill="#a5a5a5" filter="url(#b2)"/>
<rect x="382.20" y="54.50" width="10.30" height="2.20" rx="1.10" fill="#505050" filter="url(#b1)"/>
<rect x="381.40" y="56.20" width="11.90" height="8.60" rx="2.6" fill="#0a0a0a" filter="url(#b1)"/>
<rect x="424.70" y="58.20" width="10.20" height="3.80" rx="1.40" fill="#c8c8c8" filter="url(#b1)"/>
<rect x="425.00" y="59.00" width="9.60" height="2.20" rx="1.10" fill="#505050" filter="url(#b0)"/>
<rect x="438.60" y="57.60" width="10.70" height="3.40" rx="1.40" fill="#c8c8c8" filter="url(#b1)"/>
<rect x="438.90" y="58.40" width="10.10" height="1.80" rx="0.90" fill="#787878" filter="url(#b0)"/>
<rect x="340.00" y="58.40" width="8.00" height="1.80" rx="0.90" fill="#e1e1e1" filter="url(#b1)"/>
<rect x="354.00" y="58.40" width="8.00" height="1.80" rx="0.90" fill="#e4e4e4" filter="url(#b1)"/>
<rect x="367.50" y="70.30" width="11.00" height="2.60" rx="1.30" fill="#a5a5a5" filter="url(#b1)"/>
<rect x="366.70" y="72.30" width="12.60" height="5.60" rx="2.20" fill="#9c9c9c" filter="url(#b2)"/>
<rect x="367.50" y="73.30" width="11.00" height="3.60" rx="1.20" fill="#3c3c3c" filter="url(#b1)"/>
<rect x="382.00" y="70.30" width="11.00" height="2.60" rx="1.30" fill="#a5a5a5" filter="url(#b1)"/>
<rect x="381.20" y="72.30" width="12.60" height="5.60" rx="2.20" fill="#9c9c9c" filter="url(#b2)"/>
<rect x="382.00" y="73.30" width="11.00" height="3.60" rx="1.20" fill="#3c3c3c" filter="url(#b1)"/>
<rect x="423.00" y="71.10" width="12.40" height="4.40" rx="2.20" fill="#959595" filter="url(#b2)"/>
<rect x="423.80" y="72.10" width="10.80" height="2.40" rx="1.20" fill="#2d2d2d" filter="url(#b1)"/>
<rect x="423.00" y="73.40" width="12.40" height="5.20" rx="2.40" fill="#a9a9a9" filter="url(#b2)"/>
<rect x="423.80" y="74.40" width="10.80" height="3.20" rx="1.40" fill="#5a5a5a" filter="url(#b1)"/>
<rect x="436.80" y="70.30" width="13.00" height="4.40" rx="2.20" fill="#939393" filter="url(#b2)"/>
<rect x="437.60" y="71.30" width="11.40" height="2.40" rx="1.20" fill="#282828" filter="url(#b1)"/>
<rect x="436.80" y="72.70" width="13.00" height="5.40" rx="2.40" fill="#a7a7a7" filter="url(#b2)"/>
<rect x="437.60" y="73.70" width="11.40" height="3.40" rx="1.40" fill="#555555" filter="url(#b1)"/>
<rect x="352.00" y="88.70" width="11.00" height="3.60" rx="1.40" fill="#c8c8c8" filter="url(#b1)"/>
<rect x="352.30" y="89.50" width="10.40" height="2.00" rx="1.00" fill="#141414" filter="url(#b0)"/>
<rect x="367.50" y="86.00" width="11.00" height="8.00" rx="1.40" fill="#e4e4e4" filter="url(#b2)"/>
<rect x="368.00" y="84.90" width="10.00" height="1.40" rx="0.70" fill="#c8c8c8" filter="url(#b0)"/>
<rect x="379.40" y="85.00" width="14.20" height="8.80" rx="4.20" fill="#858585" filter="url(#b2)"/>
<rect x="380.20" y="86.00" width="12.60" height="6.80" rx="3.20" fill="#0a0a0a" filter="url(#b1)"/>
<rect x="410.90" y="87.80" width="11.00" height="3.60" rx="1.40" fill="#c8c8c8" filter="url(#b1)"/>
<rect x="411.20" y="88.60" width="10.40" height="2.00" rx="1.00" fill="#191919" filter="url(#b0)"/>
<rect x="438.60" y="86.50" width="10.70" height="3.60" rx="1.40" fill="#c8c8c8" filter="url(#b1)"/>
<rect x="438.90" y="87.30" width="10.10" height="2.00" rx="1.00" fill="#141414" filter="url(#b0)"/>
<rect x="353.20" y="105.00" width="12.10" height="4.20" rx="1.40" fill="#c8c8c8" filter="url(#b1)"/>
<rect x="353.50" y="105.80" width="11.50" height="2.60" rx="1.30" fill="#2d2d2d" filter="url(#b0)"/>
<rect x="382.00" y="105.20" width="12.20" height="3.80" rx="1.40" fill="#c8c8c8" filter="url(#b1)"/>
<rect x="382.30" y="106.00" width="11.60" height="2.20" rx="1.10" fill="#646464" filter="url(#b0)"/>
<rect x="410.90" y="105.10" width="13.30" height="4.00" rx="1.40" fill="#c8c8c8" filter="url(#b1)"/>
<rect x="411.20" y="105.90" width="12.70" height="2.40" rx="1.20" fill="#464646" filter="url(#b0)"/>
<rect x="439.70" y="104.90" width="10.60" height="3.80" rx="1.40" fill="#c8c8c8" filter="url(#b1)"/>
<rect x="440.00" y="105.70" width="10.00" height="2.20" rx="1.10" fill="#646464" filter="url(#b0)"/>
<rect x="340.00" y="119.00" width="9.00" height="2.40" rx="1.20" fill="#c8c8c8" filter="url(#b1)"/>
<rect x="354.00" y="119.00" width="9.00" height="2.40" rx="1.20" fill="#c8c8c8" filter="url(#b1)"/>
<rect x="368.00" y="119.00" width="9.00" height="2.40" rx="1.20" fill="#c8c8c8" filter="url(#b1)"/>
<rect x="382.00" y="119.00" width="10.00" height="2.40" rx="1.20" fill="#c8c8c8" filter="url(#b1)"/>
<rect x="395.40" y="116.60" width="14.30" height="5.20" rx="2.20" fill="#939393" filter="url(#b2)"/>
<rect x="396.20" y="117.60" width="12.70" height="3.20" rx="1.20" fill="#282828" filter="url(#b1)"/>
<rect x="395.40" y="119.20" width="14.30" height="6.00" rx="2.50" fill="#919191" filter="url(#b2)"/>
<rect x="396.20" y="120.20" width="12.70" height="4.00" rx="1.50" fill="#232323" filter="url(#b1)"/>
<rect x="410.40" y="116.60" width="12.70" height="5.20" rx="2.20" fill="#939393" filter="url(#b2)"/>
<rect x="411.20" y="117.60" width="11.10" height="3.20" rx="1.20" fill="#282828" filter="url(#b1)"/>
<rect x="410.40" y="119.20" width="12.70" height="6.00" rx="2.50" fill="#919191" filter="url(#b2)"/>
<rect x="411.20" y="120.20" width="11.10" height="4.00" rx="1.50" fill="#232323" filter="url(#b1)"/>
<rect x="424.20" y="116.60" width="13.20" height="5.20" rx="2.20" fill="#939393" filter="url(#b2)"/>
<rect x="425.00" y="117.60" width="11.60" height="3.20" rx="1.20" fill="#282828" filter="url(#b1)"/>
<rect x="424.20" y="119.20" width="13.20" height="6.00" rx="2.50" fill="#919191" filter="url(#b2)"/>
<rect x="425.00" y="120.20" width="11.60" height="4.00" rx="1.50" fill="#232323" filter="url(#b1)"/>
<rect x="438.10" y="116.60" width="12.70" height="5.20" rx="2.20" fill="#939393" filter="url(#b2)"/>
<rect x="438.90" y="117.60" width="11.10" height="3.20" rx="1.20" fill="#282828" filter="url(#b1)"/>
<rect x="438.10" y="119.20" width="12.70" height="6.00" rx="2.50" fill="#919191" filter="url(#b2)"/>
<rect x="438.90" y="120.20" width="11.10" height="4.00" rx="1.50" fill="#232323" filter="url(#b1)"/>
<rect x="341.10" y="135.50" width="11.60" height="4.60" rx="1.40" fill="#c3c3c3" filter="url(#b1)"/>
<rect x="341.60" y="136.40" width="10.60" height="2.40" rx="1.20" fill="#1e1e1e" filter="url(#b0)"/>
<rect x="354.90" y="135.70" width="11.60" height="5.00" rx="1.40" fill="#c3c3c3" filter="url(#b1)"/>
<rect x="355.40" y="136.60" width="10.60" height="2.80" rx="1.40" fill="#1e1e1e" filter="url(#b0)"/>
<rect x="368.50" y="135.90" width="11.60" height="4.60" rx="1.40" fill="#c3c3c3" filter="url(#b1)"/>
<rect x="369.00" y="136.80" width="10.60" height="2.40" rx="1.20" fill="#1e1e1e" filter="url(#b0)"/>
<rect x="382.30" y="135.70" width="11.60" height="5.00" rx="1.40" fill="#c3c3c3" filter="url(#b1)"/>
<rect x="382.80" y="136.60" width="10.60" height="2.80" rx="1.40" fill="#1e1e1e" filter="url(#b0)"/>
<rect x="396.80" y="135.50" width="11.60" height="4.60" rx="1.40" fill="#c3c3c3" filter="url(#b1)"/>
<rect x="397.30" y="136.40" width="10.60" height="2.40" rx="1.20" fill="#1e1e1e" filter="url(#b0)"/>
<rect x="410.60" y="135.50" width="11.60" height="4.60" rx="1.40" fill="#c3c3c3" filter="url(#b1)"/>
<rect x="411.10" y="136.40" width="10.60" height="2.40" rx="1.20" fill="#1e1e1e" filter="url(#b0)"/>
<rect x="424.50" y="135.10" width="11.60" height="4.60" rx="1.40" fill="#c3c3c3" filter="url(#b1)"/>
<rect x="425.00" y="136.00" width="10.60" height="2.40" rx="1.20" fill="#1e1e1e" filter="url(#b0)"/>
<rect x="438.30" y="135.10" width="11.60" height="4.60" rx="1.40" fill="#c3c3c3" filter="url(#b1)"/>
<rect x="438.80" y="136.00" width="10.60" height="2.40" rx="1.20" fill="#1e1e1e" filter="url(#b0)"/>
<linearGradient id="sg367183" x1="0" y1="0" x2="0" y2="1"><stop offset="0" stop-color="#a0a0a0"/><stop offset="0.5" stop-color="#7d7d7d"/><stop offset="1" stop-color="#3a3a3a"/></linearGradient>
<rect x="369.10" y="183.70" width="9.00" height="9.70" rx="1" fill="url(#sg367183)" filter="url(#b1)"/>
<rect x="367.60" y="190.30" width="12.00" height="4.20" rx="2.10" fill="#a5a5a5" filter="url(#b2)"/>
<rect x="368.40" y="191.30" width="10.40" height="2.20" rx="1.10" fill="#505050" filter="url(#b1)"/>
<rect x="367.60" y="193.00" width="12.00" height="9.00" rx="2.6" fill="#0a0a0a" filter="url(#b1)"/>
<linearGradient id="sg381183" x1="0" y1="0" x2="0" y2="1"><stop offset="0" stop-color="#b4b4b4"/><stop offset="0.5" stop-color="#919191"/><stop offset="1" stop-color="#3a3a3a"/></linearGradient>
<rect x="382.50" y="183.70" width="9.70" height="9.70" rx="1" fill="url(#sg381183)" filter="url(#b1)"/>
<rect x="381.00" y="190.30" width="12.70" height="4.20" rx="2.10" fill="#a5a5a5" filter="url(#b2)"/>
<rect x="381.80" y="191.30" width="11.10" height="2.20" rx="1.10" fill="#505050" filter="url(#b1)"/>
<rect x="381.00" y="193.00" width="12.70" height="9.00" rx="2.6" fill="#0a0a0a" filter="url(#b1)"/>
<rect x="423.70" y="193.70" width="12.40" height="5.00" rx="1.40" fill="#c8c8c8" filter="url(#b1)"/>
<rect x="424.00" y="194.50" width="11.80" height="3.40" rx="1.40" fill="#0f0f0f" filter="url(#b0)"/>
<rect x="438.70" y="194.10" width="10.60" height="3.40" rx="1.40" fill="#c8c8c8" filter="url(#b1)"/>
<rect x="439.00" y="194.90" width="10.00" height="1.80" rx="0.90" fill="#5a5a5a" filter="url(#b0)"/>
<rect x="340.00" y="195.10" width="8.00" height="1.80" rx="0.90" fill="#e2e2e2" filter="url(#b1)"/>
<rect x="354.00" y="195.10" width="8.00" height="1.80" rx="0.90" fill="#e2e2e2" filter="url(#b1)"/>
<rect x="367.00" y="208.20" width="11.50" height="2.00" rx="1.00" fill="#bebebe" filter="url(#b1)"/>
<rect x="366.20" y="209.60" width="13.10" height="5.80" rx="2.50" fill="#9a9a9a" filter="url(#b2)"/>
<rect x="367.00" y="210.60" width="11.50" height="3.80" rx="1.50" fill="#373737" filter="url(#b1)"/>
<rect x="381.00" y="208.20" width="11.50" height="2.00" rx="1.00" fill="#bebebe" filter="url(#b1)"/>
<rect x="380.20" y="209.60" width="13.10" height="5.80" rx="2.50" fill="#9a9a9a" filter="url(#b2)"/>
<rect x="381.00" y="210.60" width="11.50" height="3.80" rx="1.50" fill="#373737" filter="url(#b1)"/>
<rect x="424.00" y="208.60" width="11.00" height="2.00" rx="1.00" fill="#969696" filter="url(#b1)"/>
<rect x="423.20" y="209.60" width="12.60" height="5.80" rx="2.50" fill="#9a9a9a" filter="url(#b2)"/>
<rect x="424.00" y="210.60" width="11.00" height="3.80" rx="1.50" fill="#373737" filter="url(#b1)"/>
<rect x="438.00" y="208.60" width="11.00" height="2.00" rx="1.00" fill="#969696" filter="url(#b1)"/>
<rect x="437.20" y="209.60" width="12.60" height="5.80" rx="2.50" fill="#9a9a9a" filter="url(#b2)"/>
<rect x="438.00" y="210.60" width="11.00" height="3.80" rx="1.50" fill="#373737" filter="url(#b1)"/>
<rect x="352.70" y="225.30" width="12.70" height="3.60" rx="1.40" fill="#c8c8c8" filter="url(#b1)"/>
<rect x="353.00" y="226.10" width="12.10" height="2.00" rx="1.00" fill="#0f0f0f" filter="url(#b0)"/>
<rect x="368.00" y="224.50" width="10.00" height="7.00" rx="1.40" fill="#e6e6e6" filter="url(#b2)"/>
<rect x="367.70" y="220.90" width="10.60" height="2.60" rx="1.30" fill="#c8c8c8" filter="url(#b1)"/>
<rect x="368.00" y="221.70" width="10.00" height="1.00" rx="0.50" fill="#aaaaaa" filter="url(#b0)"/>
<rect x="382.50" y="222.70" width="12.00" height="10.60" rx="4.20" fill="#848484" filter="url(#b2)"/>
<rect x="383.30" y="223.70" width="10.40" height="8.60" rx="3.20" fill="#080808" filter="url(#b1)"/>
<rect x="411.20" y="226.60" width="10.60" height="3.20" rx="1.40" fill="#c8c8c8" filter="url(#b1)"/>
<rect x="411.50" y="227.40" width="10.00" height="1.60" rx="0.80" fill="#373737" filter="url(#b0)"/>
<rect x="439.20" y="227.20" width="10.60" height="3.60" rx="1.40" fill="#c8c8c8" filter="url(#b1)"/>
<rect x="439.50" y="228.00" width="10.00" height="2.00" rx="1.00" fill="#191919" filter="url(#b0)"/>
<rect x="354.80" y="241.90" width="10.60" height="4.40" rx="1.40" fill="#c8c8c8" filter="url(#b1)"/>
<rect x="355.10" y="242.70" width="10.00" height="2.80" rx="1.40" fill="#414141" filter="url(#b0)"/>
<rect x="382.70" y="242.80" width="10.80" height="4.20" rx="1.40" fill="#c8c8c8" filter="url(#b1)"/>
<rect x="383.00" y="243.60" width="10.20" height="2.60" rx="1.30" fill="#464646" filter="url(#b0)"/>
<rect x="411.30" y="243.90" width="10.50" height="4.20" rx="1.40" fill="#c8c8c8" filter="url(#b1)"/>
<rect x="411.60" y="244.70" width="9.90" height="2.60" rx="1.30" fill="#3c3c3c" filter="url(#b0)"/>
<rect x="438.30" y="244.50" width="11.00" height="4.20" rx="1.40" fill="#c8c8c8" filter="url(#b1)"/>
<rect x="438.60" y="245.30" width="10.40" height="2.60" rx="1.30" fill="#3c3c3c" filter="url(#b0)"/>
<rect x="401.40" y="258.50" width="11.70" height="5.40" rx="2.50" fill="#b7b7b7" filter="url(#b2)"/>
<rect x="402.20" y="259.50" width="10.10" height="3.40" rx="1.50" fill="#787878" filter="url(#b1)"/>
<rect x="401.40" y="255.30" width="11.70" height="6.20" rx="3.00" fill="#8a8a8a" filter="url(#b2)"/>
<rect x="402.20" y="256.30" width="10.10" height="4.20" rx="2.00" fill="#141414" filter="url(#b1)"/>
<rect x="413.20" y="258.50" width="12.00" height="5.40" rx="2.50" fill="#b7b7b7" filter="url(#b2)"/>
<rect x="414.00" y="259.50" width="10.40" height="3.40" rx="1.50" fill="#787878" filter="url(#b1)"/>
<rect x="413.20" y="255.30" width="12.00" height="6.20" rx="3.00" fill="#939393" filter="url(#b2)"/>
<rect x="414.00" y="256.30" width="10.40" height="4.20" rx="2.00" fill="#282828" filter="url(#b1)"/>
<rect x="425.60" y="258.50" width="12.00" height="5.40" rx="2.50" fill="#b7b7b7" filter="url(#b2)"/>
<rect x="426.40" y="259.50" width="10.40" height="3.40" rx="1.50" fill="#787878" filter="url(#b1)"/>
<rect x="425.60" y="255.30" width="12.00" height="6.20" rx="3.00" fill="#919191" filter="url(#b2)"/>
<rect x="426.40" y="256.30" width="10.40" height="4.20" rx="2.00" fill="#232323" filter="url(#b1)"/>
<rect x="437.80" y="258.50" width="12.00" height="5.40" rx="2.50" fill="#b7b7b7" filter="url(#b2)"/>
<rect x="438.60" y="259.50" width="10.40" height="3.40" rx="1.50" fill="#787878" filter="url(#b1)"/>
<rect x="437.80" y="255.30" width="12.00" height="6.20" rx="3.00" fill="#939393" filter="url(#b2)"/>
<rect x="438.60" y="256.30" width="10.40" height="4.20" rx="2.00" fill="#282828" filter="url(#b1)"/>
<rect x="341.10" y="273.00" width="11.60" height="4.60" rx="1.40" fill="#c3c3c3" filter="url(#b1)"/>
<rect x="341.60" y="273.90" width="10.60" height="2.40" rx="1.20" fill="#1e1e1e" filter="url(#b0)"/>
<rect x="354.90" y="273.20" width="11.60" height="5.00" rx="1.40" fill="#c3c3c3" filter="url(#b1)"/>
<rect x="355.40" y="274.10" width="10.60" height="2.80" rx="1.40" fill="#1e1e1e" filter="url(#b0)"/>
<rect x="368.50" y="273.00" width="11.60" height="4.60" rx="1.40" fill="#c3c3c3" filter="url(#b1)"/>
<rect x="369.00" y="273.90" width="10.60" height="2.40" rx="1.20" fill="#1e1e1e" filter="url(#b0)"/>
<rect x="382.30" y="273.20" width="11.60" height="5.00" rx="1.40" fill="#c3c3c3" filter="url(#b1)"/>
<rect x="382.80" y="274.10" width="10.60" height="2.80" rx="1.40" fill="#1e1e1e" filter="url(#b0)"/>
<rect x="396.80" y="273.00" width="11.60" height="4.60" rx="1.40" fill="#c3c3c3" filter="url(#b1)"/>
<rect x="397.30" y="273.90" width="10.60" height="2.40" rx="1.20" fill="#1e1e1e" filter="url(#b0)"/>
<rect x="410.60" y="273.00" width="11.60" height="4.60" rx="1.40" fill="#c3c3c3" filter="url(#b1)"/>
<rect x="411.10" y="273.90" width="10.60" height="2.40" rx="1.20" fill="#1e1e1e" filter="url(#b0)"/>
<rect x="424.50" y="272.60" width="11.60" height="4.60" rx="1.40" fill="#c3c3c3" filter="url(#b1)"/>
<rect x="425.00" y="273.50" width="10.60" height="2.40" rx="1.20" fill="#1e1e1e" filter="url(#b0)"/>
<rect x="438.30" y="272.60" width="11.60" height="4.60" rx="1.40" fill="#c3c3c3" filter="url(#b1)"/>
<rect x="438.80" y="273.50" width="10.60" height="2.40" rx="1.20" fill="#1e1e1e" filter="url(#b0)"/>
<rect x="337.80" y="45.30" width="113.40" height="21.40" fill="none" stroke="#111" stroke-width="1.45"/>
<text x="279.30" y="59.50" font-size="8.2" fill="#1e1e1e" stroke="#1e1e1e" stroke-width="0.18" text-anchor="start" textLength="54.10" lengthAdjust="spacingAndGlyphs">pALK (Tyr1604)</text>
<rect x="337.80" y="69.00" width="113.40" height="10.80" fill="none" stroke="#111" stroke-width="1.45"/>
<text x="319.40" y="77.90" font-size="8.2" fill="#1e1e1e" stroke="#1e1e1e" stroke-width="0.18" text-anchor="start" textLength="14.00" lengthAdjust="spacingAndGlyphs">ALK</text>
<rect x="337.80" y="82.90" width="113.40" height="13.60" fill="none" stroke="#111" stroke-width="1.45"/>
<text x="279.10" y="93.20" font-size="8.2" fill="#1e1e1e" stroke="#1e1e1e" stroke-width="0.18" text-anchor="start" textLength="54.30" lengthAdjust="spacingAndGlyphs">pSHP2 (Tyr542)</text>
<rect x="337.80" y="99.70" width="113.40" height="12.30" fill="none" stroke="#111" stroke-width="1.45"/>
<text x="314.90" y="109.35" font-size="8.2" fill="#1e1e1e" stroke="#1e1e1e" stroke-width="0.18" text-anchor="start" textLength="18.50" lengthAdjust="spacingAndGlyphs">SHP2</text>
<rect x="337.80" y="114.90" width="113.40" height="11.30" fill="none" stroke="#111" stroke-width="1.45"/>
<text x="309.80" y="124.05" font-size="8.2" fill="#1e1e1e" stroke="#1e1e1e" stroke-width="0.18" text-anchor="start" textLength="23.60" lengthAdjust="spacingAndGlyphs">PTPN1</text>
<rect x="337.80" y="129.10" width="113.40" height="13.80" fill="none" stroke="#111" stroke-width="1.45"/>
<text x="308.20" y="139.50" font-size="8.2" fill="#1e1e1e" stroke="#1e1e1e" stroke-width="0.18" text-anchor="start" textLength="25.20" lengthAdjust="spacingAndGlyphs">β- actin</text>
<rect x="337.80" y="182.80" width="113.40" height="20.80" fill="none" stroke="#111" stroke-width="1.45"/>
<text x="279.30" y="196.70" font-size="8.2" fill="#1e1e1e" stroke="#1e1e1e" stroke-width="0.18" text-anchor="start" textLength="54.10" lengthAdjust="spacingAndGlyphs">pALK (Tyr1604)</text>
<rect x="337.80" y="206.90" width="113.40" height="10.00" fill="none" stroke="#111" stroke-width="1.45"/>
<text x="319.40" y="215.40" font-size="8.2" fill="#1e1e1e" stroke="#1e1e1e" stroke-width="0.18" text-anchor="start" textLength="14.00" lengthAdjust="spacingAndGlyphs">ALK</text>
<rect x="337.80" y="219.80" width="113.40" height="14.80" fill="none" stroke="#111" stroke-width="1.45"/>
<text x="279.10" y="230.70" font-size="8.2" fill="#1e1e1e" stroke="#1e1e1e" stroke-width="0.18" text-anchor="start" textLength="54.30" lengthAdjust="spacingAndGlyphs">pSHP2 (Tyr542)</text>
<rect x="337.80" y="238.20" width="113.40" height="12.60" fill="none" stroke="#111" stroke-width="1.45"/>
<text x="314.90" y="248.00" font-size="8.2" fill="#1e1e1e" stroke="#1e1e1e" stroke-width="0.18" text-anchor="start" textLength="18.50" lengthAdjust="spacingAndGlyphs">SHP2</text>
<rect x="337.80" y="254.00" width="113.40" height="9.70" fill="none" stroke="#111" stroke-width="1.45"/>
<text x="309.80" y="262.35" font-size="8.2" fill="#1e1e1e" stroke="#1e1e1e" stroke-width="0.18" text-anchor="start" textLength="23.60" lengthAdjust="spacingAndGlyphs">PTPN2</text>
<rect x="337.80" y="266.60" width="113.40" height="13.60" fill="none" stroke="#111" stroke-width="1.45"/>
<text x="308.20" y="276.90" font-size="8.2" fill="#1e1e1e" stroke="#1e1e1e" stroke-width="0.18" text-anchor="start" textLength="25.20" lengthAdjust="spacingAndGlyphs">β- actin</text>
<path d="M187 399.5H231.50" stroke="#444" stroke-width="1" stroke-dasharray="1 1.2" fill="none"/>
<line x1="39.0" y1="311.2" x2="39.0" y2="421.0" stroke="#2a2a2a" stroke-width="1.2"/>
<line x1="38.4" y1="420.4" x2="200.7" y2="420.4" stroke="#2a2a2a" stroke-width="1.2"/>
<line x1="35.8" y1="420.40" x2="39.0" y2="420.40" stroke="#2a2a2a" stroke-width="1.0"/>
<text x="28.80" y="423.40" font-size="8.6" fill="#1e1e1e" stroke="#1e1e1e" stroke-width="0.18" text-anchor="start" textLength="4.40" lengthAdjust="spacingAndGlyphs">0</text>
<line x1="35.8" y1="384.00" x2="39.0" y2="384.00" stroke="#2a2a2a" stroke-width="1.0"/>
<text x="24.60" y="387.00" font-size="8.6" fill="#1e1e1e" stroke="#1e1e1e" stroke-width="0.18" text-anchor="start" textLength="8.60" lengthAdjust="spacingAndGlyphs">20</text>
<line x1="35.8" y1="347.60" x2="39.0" y2="347.60" stroke="#2a2a2a" stroke-width="1.0"/>
<text x="24.60" y="350.60" font-size="8.6" fill="#1e1e1e" stroke="#1e1e1e" stroke-width="0.18" text-anchor="start" textLength="8.60" lengthAdjust="spacingAndGlyphs">40</text>
<line x1="35.8" y1="311.20" x2="39.0" y2="311.20" stroke="#2a2a2a" stroke-width="1.0"/>
<text x="24.60" y="314.20" font-size="8.6" fill="#1e1e1e" stroke="#1e1e1e" stroke-width="0.18" text-anchor="start" textLength="8.60" lengthAdjust="spacingAndGlyphs">60</text>
<line x1="56.40" y1="420.4" x2="56.40" y2="423.7" stroke="#2a2a2a" stroke-width="1.0"/>
<text x="54.20" y="433.00" font-size="8.6" fill="#1e1e1e" stroke="#1e1e1e" stroke-width="0.18" text-anchor="start" textLength="4.40" lengthAdjust="spacingAndGlyphs">0</text>
<line x1="81.82" y1="420.4" x2="81.82" y2="423.7" stroke="#2a2a2a" stroke-width="1.0"/>
<text x="79.62" y="433.00" font-size="8.6" fill="#1e1e1e" stroke="#1e1e1e" stroke-width="0.18" text-anchor="start" textLength="4.40" lengthAdjust="spacingAndGlyphs">2</text>
<line x1="107.24" y1="420.4" x2="107.24" y2="423.7" stroke="#2a2a2a" stroke-width="1.0"/>
<text x="105.04" y="433.00" font-size="8.6" fill="#1e1e1e" stroke="#1e1e1e" stroke-width="0.18" text-anchor="start" textLength="4.40" lengthAdjust="spacingAndGlyphs">4</text>
<line x1="132.66" y1="420.4" x2="132.66" y2="423.7" stroke="#2a2a2a" stroke-width="1.0"/>
<text x="130.46" y="433.00" font-size="8.6" fill="#1e1e1e" stroke="#1e1e1e" stroke-width="0.18" text-anchor="start" textLength="4.40" lengthAdjust="spacingAndGlyphs">6</text>
<line x1="158.08" y1="420.4" x2="158.08" y2="423.7" stroke="#2a2a2a" stroke-width="1.0"/>
<text x="155.88" y="433.00" font-size="8.6" fill="#1e1e1e" stroke="#1e1e1e" stroke-width="0.18" text-anchor="start" textLength="4.40" lengthAdjust="spacingAndGlyphs">8</text>
<line x1="183.50" y1="420.4" x2="183.50" y2="423.7" stroke="#2a2a2a" stroke-width="1.0"/>
<text x="179.30" y="433.00" font-size="8.6" fill="#1e1e1e" stroke="#1e1e1e" stroke-width="0.18" text-anchor="start" textLength="8.40" lengthAdjust="spacingAndGlyphs">10</text>
<text x="111.85" y="446.20" font-size="9.4" fill="#1e1e1e" stroke="#1e1e1e" stroke-width="0.18" text-anchor="start" textLength="16.00" lengthAdjust="spacingAndGlyphs">Days</text>
<text x="114.20" y="309.60" font-size="10.2" font-weight="bold" fill="#000" text-anchor="start" textLength="11.00" lengthAdjust="spacingAndGlyphs">TS</text>
<g transform="translate(14.80,365.5) rotate(-90)">
<text x="-10.40" y="3.40" font-size="10.2" fill="#1e1e1e" stroke="#1e1e1e" stroke-width="0.18" text-anchor="start" textLength="20.80" lengthAdjust="spacingAndGlyphs">% GFP</text>
</g>
<polyline points="56.40,377.45 81.82,384.36 107.24,385.82 132.66,386.55 158.08,391.10 183.50,398.74" fill="none" stroke="#cc1638" stroke-width="1.35" stroke-linejoin="round"/>
<polyline points="56.40,377.45 81.82,373.81 107.24,372.35 132.66,367.07 158.08,376.36 183.50,373.08" fill="none" stroke="#1b5490" stroke-width="1.35" stroke-linejoin="round"/>
<polyline points="56.40,377.45 81.82,374.90 107.24,370.17 132.66,365.44 158.08,357.61 183.50,349.24" fill="none" stroke="#5d2a86" stroke-width="1.35" stroke-linejoin="round"/>
<polyline points="56.40,377.45 81.82,369.26 107.24,362.16 132.66,363.43 158.08,345.23 183.50,323.94" fill="none" stroke="#2fb54a" stroke-width="1.35" stroke-linejoin="round"/>
<path d="M81.82 370.71V376.90M80.02 370.71h3.6M80.02 376.90h3.6" stroke="#111" stroke-width="0.9" fill="none"/>
<path d="M132.66 358.52V368.35M130.86 358.52h3.6M130.86 368.35h3.6" stroke="#111" stroke-width="0.9" fill="none"/>
<path d="M132.66 365.62V368.53M130.86 365.62h3.6M130.86 368.53h3.6" stroke="#111" stroke-width="0.9" fill="none"/>
<path d="M183.50 362.52V383.64M181.70 362.52h3.6M181.70 383.64h3.6" stroke="#111" stroke-width="0.9" fill="none"/>
<path d="M183.50 316.84V331.04M181.70 316.84h3.6M181.70 331.04h3.6" stroke="#111" stroke-width="0.9" fill="none"/>
<path d="M158.08 343.41V347.05M156.28 343.41h3.6M156.28 347.05h3.6" stroke="#111" stroke-width="0.9" fill="none"/>
<path d="M158.08 353.06V362.16M156.28 353.06h3.6M156.28 362.16h3.6" stroke="#111" stroke-width="0.9" fill="none"/>
<path d="M183.50 348.15V350.33M181.70 348.15h3.6M181.70 350.33h3.6" stroke="#111" stroke-width="0.9" fill="none"/>
<path d="M158.08 385.27V396.92M156.28 385.27h3.6M156.28 396.92h3.6" stroke="#111" stroke-width="0.9" fill="none"/>
<circle cx="56.40" cy="377.45" r="2.0" fill="#000"/>
<circle cx="81.82" cy="384.36" r="2.0" fill="#000"/>
<circle cx="107.24" cy="385.82" r="2.0" fill="#000"/>
<circle cx="132.66" cy="386.55" r="2.0" fill="#000"/>
<circle cx="158.08" cy="391.10" r="2.0" fill="#000"/>
<rect x="181.60" y="396.84" width="3.8" height="3.8" fill="#000"/>
<rect x="54.50" y="375.55" width="3.8" height="3.8" fill="#000"/>
<rect x="79.92" y="371.91" width="3.8" height="3.8" fill="#000"/>
<rect x="105.34" y="370.45" width="3.8" height="3.8" fill="#000"/>
<rect x="130.76" y="365.17" width="3.8" height="3.8" fill="#000"/>
<rect x="156.18" y="374.46" width="3.8" height="3.8" fill="#000"/>
<rect x="181.60" y="371.18" width="3.8" height="3.8" fill="#000"/>
<path d="M56.40 379.76L58.60 375.80L54.20 375.80Z" fill="#000"/>
<path d="M81.82 377.21L84.02 373.25L79.62 373.25Z" fill="#000"/>
<path d="M107.24 372.48L109.44 368.52L105.04 368.52Z" fill="#000"/>
<path d="M132.66 367.75L134.86 363.79L130.46 363.79Z" fill="#000"/>
<path d="M158.08 359.92L160.28 355.96L155.88 355.96Z" fill="#000"/>
<path d="M183.50 351.55L185.70 347.59L181.30 347.59Z" fill="#000"/>
<path d="M56.40 375.14L58.60 379.10L54.20 379.10Z" fill="#000"/>
<path d="M81.82 366.95L84.02 370.91L79.62 370.91Z" fill="#000"/>
<path d="M107.24 359.85L109.44 363.81L105.04 363.81Z" fill="#000"/>
<path d="M132.66 361.12L134.86 365.08L130.46 365.08Z" fill="#000"/>
<path d="M158.08 342.92L160.28 346.88L155.88 346.88Z" fill="#000"/>
<path d="M183.50 321.63L185.70 325.59L181.30 325.59Z" fill="#000"/>
<path d="M187 372.5H196.30" stroke="#444" stroke-width="1" stroke-dasharray="1 1.2" fill="none"/>
<path d="M196.5 372V399.30" stroke="#444" stroke-width="1" stroke-dasharray="1 1.2" fill="none"/>
<text x="198.20" y="393.10" font-size="8.5" font-weight="bold" fill="#222" text-anchor="start" textLength="13.40" lengthAdjust="spacingAndGlyphs">****</text>
<path d="M188 348.5H214.00" stroke="#444" stroke-width="1" stroke-dasharray="1 1.2" fill="none"/>
<path d="M214.5 348V399.30" stroke="#444" stroke-width="1" stroke-dasharray="1 1.2" fill="none"/>
<text x="216.00" y="377.40" font-size="8.5" font-weight="bold" fill="#222" text-anchor="start" textLength="13.80" lengthAdjust="spacingAndGlyphs">****</text>
<path d="M190 323.5H231.30" stroke="#444" stroke-width="1" stroke-dasharray="1 1.2" fill="none"/>
<path d="M231.5 323V399.30" stroke="#444" stroke-width="1" stroke-dasharray="1 1.2" fill="none"/>
<text x="233.70" y="363.10" font-size="8.5" font-weight="bold" fill="#222" text-anchor="start" textLength="13.80" lengthAdjust="spacingAndGlyphs">****</text>
<path d="M452 401.5H496.50" stroke="#444" stroke-width="1" stroke-dasharray="1 1.2" fill="none"/>
<line x1="300.6" y1="309.4" x2="300.6" y2="420.70000000000005" stroke="#2a2a2a" stroke-width="1.2"/>
<line x1="300.0" y1="420.1" x2="465.4" y2="420.1" stroke="#2a2a2a" stroke-width="1.2"/>
<line x1="297.40000000000003" y1="420.10" x2="300.6" y2="420.10" stroke="#2a2a2a" stroke-width="1.0"/>
<text x="290.40" y="423.10" font-size="8.6" fill="#1e1e1e" stroke="#1e1e1e" stroke-width="0.18" text-anchor="start" textLength="4.40" lengthAdjust="spacingAndGlyphs">0</text>
<line x1="297.40000000000003" y1="388.46" x2="300.6" y2="388.46" stroke="#2a2a2a" stroke-width="1.0"/>
<text x="286.20" y="391.46" font-size="8.6" fill="#1e1e1e" stroke="#1e1e1e" stroke-width="0.18" text-anchor="start" textLength="8.60" lengthAdjust="spacingAndGlyphs">20</text>
<line x1="297.40000000000003" y1="356.82" x2="300.6" y2="356.82" stroke="#2a2a2a" stroke-width="1.0"/>
<text x="286.20" y="359.82" font-size="8.6" fill="#1e1e1e" stroke="#1e1e1e" stroke-width="0.18" text-anchor="start" textLength="8.60" lengthAdjust="spacingAndGlyphs">40</text>
<line x1="297.40000000000003" y1="325.18" x2="300.6" y2="325.18" stroke="#2a2a2a" stroke-width="1.0"/>
<text x="286.20" y="328.18" font-size="8.6" fill="#1e1e1e" stroke="#1e1e1e" stroke-width="0.18" text-anchor="start" textLength="8.60" lengthAdjust="spacingAndGlyphs">60</text>
<line x1="317.70" y1="420.1" x2="317.70" y2="423.40000000000003" stroke="#2a2a2a" stroke-width="1.0"/>
<text x="315.50" y="433.00" font-size="8.6" fill="#1e1e1e" stroke="#1e1e1e" stroke-width="0.18" text-anchor="start" textLength="4.40" lengthAdjust="spacingAndGlyphs">0</text>
<line x1="343.70" y1="420.1" x2="343.70" y2="423.40000000000003" stroke="#2a2a2a" stroke-width="1.0"/>
<text x="341.50" y="433.00" font-size="8.6" fill="#1e1e1e" stroke="#1e1e1e" stroke-width="0.18" text-anchor="start" textLength="4.40" lengthAdjust="spacingAndGlyphs">2</text>
<line x1="369.70" y1="420.1" x2="369.70" y2="423.40000000000003" stroke="#2a2a2a" stroke-width="1.0"/>
<text x="367.50" y="433.00" font-size="8.6" fill="#1e1e1e" stroke="#1e1e1e" stroke-width="0.18" text-anchor="start" textLength="4.40" lengthAdjust="spacingAndGlyphs">4</text>
<line x1="395.70" y1="420.1" x2="395.70" y2="423.40000000000003" stroke="#2a2a2a" stroke-width="1.0"/>
<text x="393.50" y="433.00" font-size="8.6" fill="#1e1e1e" stroke="#1e1e1e" stroke-width="0.18" text-anchor="start" textLength="4.40" lengthAdjust="spacingAndGlyphs">6</text>
<line x1="421.70" y1="420.1" x2="421.70" y2="423.40000000000003" stroke="#2a2a2a" stroke-width="1.0"/>
<text x="419.50" y="433.00" font-size="8.6" fill="#1e1e1e" stroke="#1e1e1e" stroke-width="0.18" text-anchor="start" textLength="4.40" lengthAdjust="spacingAndGlyphs">8</text>
<line x1="447.70" y1="420.1" x2="447.70" y2="423.40000000000003" stroke="#2a2a2a" stroke-width="1.0"/>
<text x="443.50" y="433.00" font-size="8.6" fill="#1e1e1e" stroke="#1e1e1e" stroke-width="0.18" text-anchor="start" textLength="8.40" lengthAdjust="spacingAndGlyphs">10</text>
<text x="371.85" y="446.20" font-size="9.4" fill="#1e1e1e" stroke="#1e1e1e" stroke-width="0.18" text-anchor="start" textLength="16.00" lengthAdjust="spacingAndGlyphs">Days</text>
<text x="374.80" y="309.60" font-size="10.2" font-weight="bold" fill="#000" text-anchor="start" textLength="16.40" lengthAdjust="spacingAndGlyphs">JB6</text>
<g transform="translate(276.30,365.5) rotate(-90)">
<text x="-10.40" y="3.40" font-size="10.2" fill="#1e1e1e" stroke="#1e1e1e" stroke-width="0.18" text-anchor="start" textLength="20.80" lengthAdjust="spacingAndGlyphs">% GFP</text>
</g>
<polyline points="317.70,400.17 343.70,406.02 369.70,405.23 395.70,403.96 421.70,402.22 447.70,400.96" fill="none" stroke="#cc1638" stroke-width="1.35" stroke-linejoin="round"/>
<polyline points="317.70,400.17 343.70,403.65 369.70,394.79 395.70,394.47 421.70,387.83 447.70,387.35" fill="none" stroke="#1b5490" stroke-width="1.35" stroke-linejoin="round"/>
<polyline points="317.70,400.17 343.70,402.86 369.70,391.62 395.70,375.80 421.70,365.68 447.70,343.21" fill="none" stroke="#5d2a86" stroke-width="1.35" stroke-linejoin="round"/>
<polyline points="317.70,400.17 343.70,399.69 369.70,386.09 395.70,381.50 421.70,364.26 447.70,335.15" fill="none" stroke="#2fb54a" stroke-width="1.35" stroke-linejoin="round"/>
<path d="M395.70 373.59V389.41M393.90 373.59h3.6M393.90 389.41h3.6" stroke="#111" stroke-width="0.9" fill="none"/>
<path d="M395.70 369.48V382.13M393.90 369.48h3.6M393.90 382.13h3.6" stroke="#111" stroke-width="0.9" fill="none"/>
<path d="M395.70 391.31V397.64M393.90 391.31h3.6M393.90 397.64h3.6" stroke="#111" stroke-width="0.9" fill="none"/>
<path d="M395.70 401.59V406.34M393.90 401.59h3.6M393.90 406.34h3.6" stroke="#111" stroke-width="0.9" fill="none"/>
<path d="M421.70 361.88V366.63M419.90 361.88h3.6M419.90 366.63h3.6" stroke="#111" stroke-width="0.9" fill="none"/>
<path d="M421.70 363.78V367.58M419.90 363.78h3.6M419.90 367.58h3.6" stroke="#111" stroke-width="0.9" fill="none"/>
<path d="M447.70 322.81V347.49M445.90 322.81h3.6M445.90 347.49h3.6" stroke="#111" stroke-width="0.9" fill="none"/>
<path d="M447.70 340.05V346.38M445.90 340.05h3.6M445.90 346.38h3.6" stroke="#111" stroke-width="0.9" fill="none"/>
<path d="M447.70 382.13V392.57M445.90 382.13h3.6M445.90 392.57h3.6" stroke="#111" stroke-width="0.9" fill="none"/>
<path d="M343.70 402.07V405.23M341.90 402.07h3.6M341.90 405.23h3.6" stroke="#111" stroke-width="0.9" fill="none"/>
<path d="M421.70 400.64V403.81M419.90 400.64h3.6M419.90 403.81h3.6" stroke="#111" stroke-width="0.9" fill="none"/>
<path d="M343.70 404.75V407.29M341.90 404.75h3.6M341.90 407.29h3.6" stroke="#111" stroke-width="0.9" fill="none"/>
<circle cx="317.70" cy="400.17" r="1.9" fill="#000"/>
<circle cx="343.70" cy="406.02" r="1.9" fill="#000"/>
<circle cx="369.70" cy="405.23" r="1.9" fill="#000"/>
<circle cx="395.70" cy="403.96" r="1.9" fill="#000"/>
<circle cx="421.70" cy="402.22" r="1.9" fill="#000"/>
<circle cx="447.70" cy="400.96" r="1.9" fill="#000"/>
<rect x="315.90" y="398.37" width="3.6" height="3.6" fill="#000"/>
<rect x="341.90" y="401.85" width="3.6" height="3.6" fill="#000"/>
<rect x="367.90" y="392.99" width="3.6" height="3.6" fill="#000"/>
<rect x="393.90" y="392.67" width="3.6" height="3.6" fill="#000"/>
<rect x="419.90" y="386.03" width="3.6" height="3.6" fill="#000"/>
<rect x="445.90" y="385.55" width="3.6" height="3.6" fill="#000"/>
<path d="M317.70 402.16L319.60 398.74L315.80 398.74Z" fill="#000"/>
<path d="M343.70 404.85L345.60 401.43L341.80 401.43Z" fill="#000"/>
<path d="M369.70 393.62L371.60 390.20L367.80 390.20Z" fill="#000"/>
<path d="M395.70 377.80L397.60 374.38L393.80 374.38Z" fill="#000"/>
<path d="M421.70 367.67L423.60 364.25L419.80 364.25Z" fill="#000"/>
<path d="M447.70 345.21L449.60 341.79L445.80 341.79Z" fill="#000"/>
<path d="M317.70 398.17L319.60 401.59L315.80 401.59Z" fill="#000"/>
<path d="M343.70 397.70L345.60 401.12L341.80 401.12Z" fill="#000"/>
<path d="M369.70 384.09L371.60 387.51L367.80 387.51Z" fill="#000"/>
<path d="M395.70 379.50L397.60 382.92L393.80 382.92Z" fill="#000"/>
<path d="M421.70 362.26L423.60 365.68L419.80 365.68Z" fill="#000"/>
<path d="M447.70 333.15L449.60 336.57L445.80 336.57Z" fill="#000"/>
<path d="M452 387.5H460.60" stroke="#444" stroke-width="1" stroke-dasharray="1 1.2" fill="none"/>
<path d="M460.5 387V401.30" stroke="#444" stroke-width="1" stroke-dasharray="1 1.2" fill="none"/>
<text x="464.20" y="398.20" font-size="8.5" font-weight="bold" fill="#222" text-anchor="start" textLength="6.40" lengthAdjust="spacingAndGlyphs">**</text>
<path d="M457 341.5H477.00" stroke="#444" stroke-width="1" stroke-dasharray="1 1.2" fill="none"/>
<path d="M477.5 341V401.30" stroke="#444" stroke-width="1" stroke-dasharray="1 1.2" fill="none"/>
<text x="480.60" y="381.10" font-size="8.5" font-weight="bold" fill="#222" text-anchor="start" textLength="13.80" lengthAdjust="spacingAndGlyphs">****</text>
<path d="M457 334.5H496.50" stroke="#444" stroke-width="1" stroke-dasharray="1 1.2" fill="none"/>
<path d="M496.5 334V401.30" stroke="#444" stroke-width="1" stroke-dasharray="1 1.2" fill="none"/>
<text x="498.60" y="371.40" font-size="8.5" font-weight="bold" fill="#222" text-anchor="start" textLength="13.80" lengthAdjust="spacingAndGlyphs">****</text>
<line x1="144.0" y1="463.2" x2="159.6" y2="463.2" stroke="#cc1638" stroke-width="1.4"/>
<circle cx="151.9" cy="463.2" r="2.2" fill="#000"/>
<text x="162.50" y="466.10" font-size="8.2" fill="#1e1e1e" stroke="#1e1e1e" stroke-width="0.18" text-anchor="start" textLength="11.80" lengthAdjust="spacingAndGlyphs">Ctrl</text>
<line x1="198.8" y1="463.2" x2="213.8" y2="463.2" stroke="#1b5490" stroke-width="1.4"/>
<rect x="204.4" y="461.2" width="4" height="4" fill="#000"/>
<text x="217.20" y="466.10" font-size="8.2" fill="#1e1e1e" stroke="#1e1e1e" stroke-width="0.18" text-anchor="start" textLength="18.20" lengthAdjust="spacingAndGlyphs">SHP2</text>
<text x="235.80" y="462.40" font-size="5.6" fill="#1e1e1e" text-anchor="start" textLength="7.00" lengthAdjust="spacingAndGlyphs">WT</text>
<line x1="267.7" y1="463.2" x2="283.1" y2="463.2" stroke="#2fb54a" stroke-width="1.4"/>
<path d="M275.4 460.8L277.7 464.9L273.09999999999997 464.9Z" fill="#000"/>
<text x="286.50" y="466.10" font-size="8.2" fill="#1e1e1e" stroke="#1e1e1e" stroke-width="0.18" text-anchor="start" textLength="17.80" lengthAdjust="spacingAndGlyphs">SHP2</text>
<text x="304.70" y="462.40" font-size="5.6" fill="#1e1e1e" text-anchor="start" textLength="12.40" lengthAdjust="spacingAndGlyphs">E76K</text>
<line x1="340.8" y1="463.2" x2="356.5" y2="463.2" stroke="#5d2a86" stroke-width="1.4"/>
<path d="M348.5 465.59999999999997L350.8 461.5L346.2 461.5Z" fill="#000"/>
<text x="359.50" y="466.10" font-size="8.2" fill="#1e1e1e" stroke="#1e1e1e" stroke-width="0.18" text-anchor="start" textLength="17.90" lengthAdjust="spacingAndGlyphs">SHP2</text>
<text x="377.80" y="462.40" font-size="5.6" fill="#1e1e1e" text-anchor="start" textLength="12.40" lengthAdjust="spacingAndGlyphs">D61Y</text>
<rect x="0.5" y="0.5" width="519" height="473" fill="none" stroke="#000" stroke-width="1.2"/>
</svg></body></html>
